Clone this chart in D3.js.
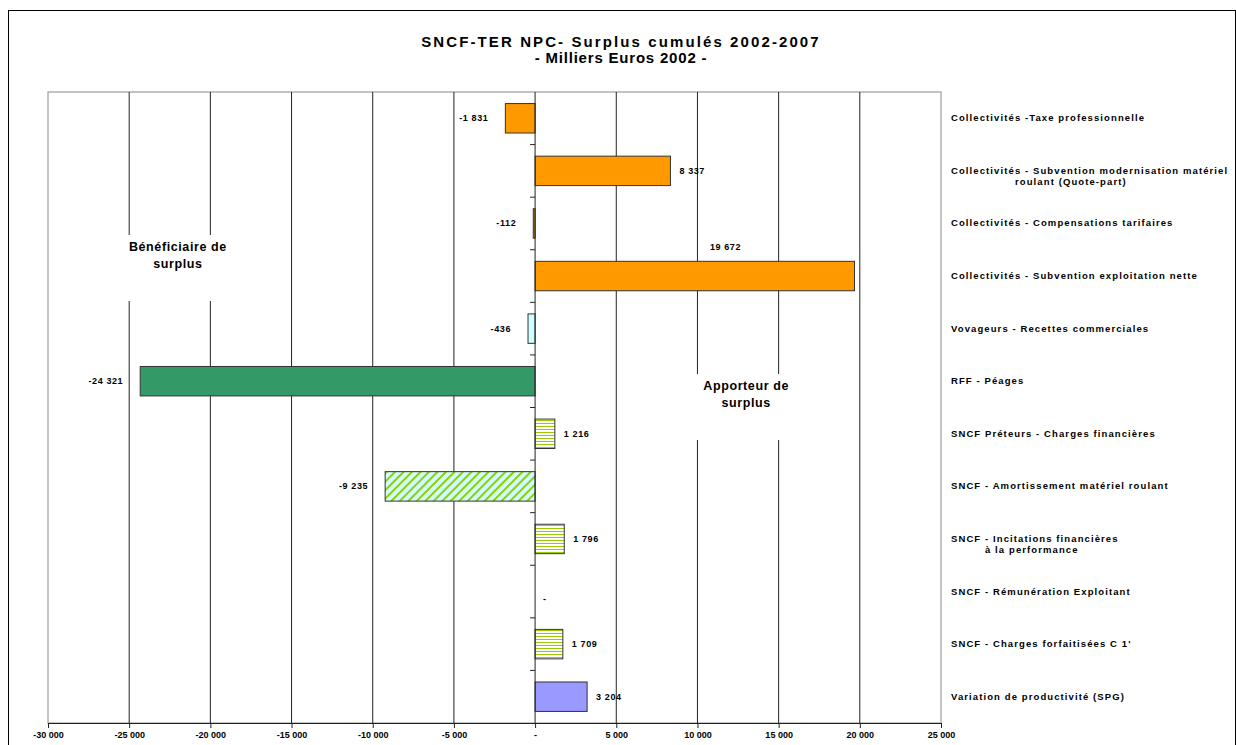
<!DOCTYPE html>
<html>
<head>
<meta charset="utf-8">
<script src="https://cdn.jsdelivr.net/npm/d3@7"></script>
<style>
html,body{margin:0;padding:0;background:#fff;}
svg{display:block;font-family:"Liberation Sans",Arial,sans-serif;}
</style>
</head>
<body>
<svg id="chart" width="1236" height="745"></svg>
<script>
const categories = [
  ["Collectivités -Taxe professionnelle"],
  ["Collectivités - Subvention modernisation matériel", "roulant (Quote-part)"],
  ["Collectivités - Compensations tarifaires"],
  ["Collectivités - Subvention exploitation nette"],
  ["Vovageurs - Recettes commerciales"],
  ["RFF - Péages"],
  ["SNCF Préteurs - Charges financières"],
  ["SNCF - Amortissement matériel roulant"],
  ["SNCF - Incitations financières", "à la performance"],
  ["SNCF - Rémunération Exploitant"],
  ["SNCF - Charges forfaitisées C 1'"],
  ["Variation de productivité (SPG)"]
];
const values = [-1831, 8337, -112, 19672, -436, -24321, 1216, -9235, 1796, 0, 1709, 3204];
const fills = ["#FF9900","#FF9900","#FF9900","#FF9900","#CCFFFF","#339966",
               "url(#hstripe)","url(#diag)","url(#hstripe)","#FF9900","url(#hstripe)","#9999FF"];
const tickValues = [-30000,-25000,-20000,-15000,-10000,-5000,0,5000,10000,15000,20000,25000];
const titleLines = ["SNCF-TER NPC- Surplus cumulés 2002-2007", "- Milliers Euros 2002 -"];

const svg = d3.select("#chart");
const W = 1236, H = 745;
const m = {left:48, right:941, top:92, bottom:723};

const loc = d3.formatLocale({decimal:",", thousands:" ", grouping:[3], currency:["",""], minus:"-"});
const fmt = v => v === 0 ? "-" : loc.format(",d")(v);

const x = d3.scaleLinear().domain([-30000, 25000]).range([m.left, m.right]);
const y = d3.scaleBand().domain(d3.range(categories.length)).range([m.top, m.bottom]).paddingInner(0.44).paddingOuter(0.22);
const step = y.step();

const defs = svg.append("defs");
const hs = defs.append("pattern").attr("id","hstripe").attr("patternUnits","userSpaceOnUse").attr("width",6).attr("height",3);
hs.append("rect").attr("width",6).attr("height",3).attr("fill","#fff");
hs.append("rect").attr("y",0).attr("width",6).attr("height",1).attr("fill","#99CC00");
const dg = defs.append("pattern").attr("id","diag").attr("patternUnits","userSpaceOnUse").attr("width",6).attr("height",6).attr("patternTransform","rotate(45)");
dg.append("rect").attr("width",6).attr("height",6).attr("fill","#CCFFFF");
dg.append("rect").attr("x",0).attr("width",2).attr("height",6).attr("fill","#99CC00");

// outer frame
svg.append("rect").attr("x",8.5).attr("y",10.5).attr("width",W-9).attr("height",H-8)
  .attr("fill","#fff").attr("stroke","#000").attr("stroke-width",1);

// title
const titleSpacing = [2.1, 0.8];
svg.append("g").selectAll("text").data(titleLines).join("text")
  .attr("x",621).attr("y",(d,i)=>47+i*16).attr("text-anchor","middle")
  .attr("font-size",15).attr("font-weight","bold")
  .attr("letter-spacing",(d,i)=>titleSpacing[i]).text(d=>d);

// plot border
svg.append("rect").attr("x",m.left).attr("y",m.top).attr("width",m.right-m.left).attr("height",m.bottom-m.top)
  .attr("fill","#fff").attr("stroke","#b0b0b0").attr("stroke-width",1.5);

// gridlines
svg.append("g").selectAll("line").data(tickValues.filter(v=>v!==0 && v!==-30000 && v!==25000)).join("line")
  .attr("x1",d=>x(d)).attr("x2",d=>x(d)).attr("y1",m.top).attr("y2",m.bottom)
  .attr("stroke","#222").attr("stroke-width",1);

// annotations with white backgrounds
function note(cx, cy, lines, w){
  svg.append("rect").attr("x",cx-w/2).attr("y",cy-16).attr("width",w).attr("height",66).attr("fill","#fff");
  svg.append("g").selectAll("text").data(lines).join("text")
    .attr("x",cx).attr("y",(d,i)=>cy+i*17).attr("text-anchor","middle")
    .attr("font-size",12.5).attr("font-weight","bold").attr("letter-spacing","0.6").text(d=>d);
}
note(x(-22000), 251, ["Bénéficiaire de","surplus"], 112);
note(x(13000), 390, ["Apporteur de","surplus"], 108);

// bars
svg.append("g").selectAll("rect").data(values).join("rect")
  .attr("x",d=>x(Math.min(0,d))).attr("y",(d,i)=>y(i))
  .attr("width",d=>Math.abs(x(d)-x(0))).attr("height",y.bandwidth())
  .attr("fill",(d,i)=>fills[i]).attr("stroke",(d)=>d===0?"none":"#333").attr("stroke-width",1);

// value labels
svg.append("g").selectAll("text").data(values).join("text")
  .attr("x",(d,i)=>{
    if (i===3) return x(d)-129;
    if (d===0) return x(0)+8;
    return d>0 ? x(d)+9 : x(d)-17;
  })
  .attr("y",(d,i)=>{
    if (i===3) return y(i)-11;
    if (d===0) return y(i)+y.bandwidth()/2+10;
    return y(i)+y.bandwidth()/2+3;
  })
  .attr("text-anchor",(d,i)=> i===3 ? "middle" : (d>=0 ? "start":"end"))
  .attr("font-size",9).attr("font-weight","bold").attr("letter-spacing","0.6").text(d=>fmt(d));

// y axis at zero
const yAxisG = svg.append("g");
yAxisG.append("line").attr("x1",x(0)).attr("x2",x(0)).attr("y1",m.top).attr("y2",m.bottom).attr("stroke","#222");
yAxisG.selectAll("line.t").data(d3.range(1,categories.length)).join("line").attr("class","t")
  .attr("x1",x(0)-5).attr("x2",x(0)).attr("y1",i=>m.top+i*step).attr("y2",i=>m.top+i*step).attr("stroke","#222");

// x axis
const xAxis = d3.axisBottom(x).tickValues(tickValues).tickSize(5).tickFormat(fmt);
const xg = svg.append("g").attr("transform",`translate(0,${m.bottom})`).call(xAxis);
xg.select(".domain").attr("stroke","#222");
xg.selectAll(".tick line").attr("stroke","#222");
xg.selectAll("text").attr("font-size",9).attr("font-weight","bold").attr("fill","#000")
  .attr("font-family","Liberation Sans, Arial, sans-serif").attr("dy","0.75em");

// category labels
const cg = svg.append("g").selectAll("g").data(categories).join("g")
  .attr("transform",(d,i)=>`translate(951,${y(i)+y.bandwidth()/2+3})`);
cg.selectAll("text").data(d=>d).join("text")
  .attr("x",(d,i)=> i===0 ? 0 : (d.startsWith("roulant") ? 64 : 34))
  .attr("y",(d,i)=>i*11)
  .attr("font-size",9.5).attr("font-weight","bold").attr("letter-spacing","1.1").text(d=>d);
</script>
</body>
</html>
